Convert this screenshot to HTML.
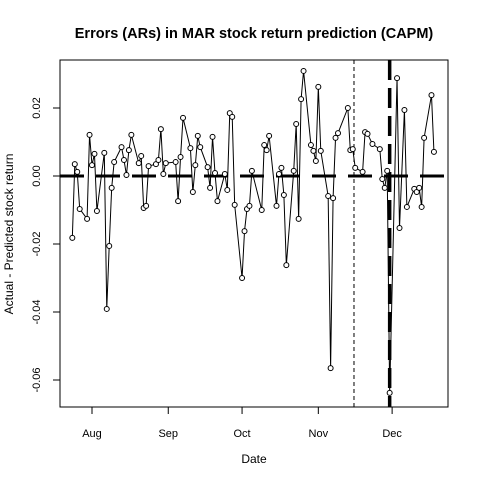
<!DOCTYPE html>
<html><head><meta charset="utf-8"><style>
body{margin:0;background:#fff}
svg text{font-family:"Liberation Sans",Arial,sans-serif;fill:#000}
</style></head><body>
<svg id="chart" width="480" height="480" xmlns="http://www.w3.org/2000/svg">
<rect width="480" height="480" fill="#fff"/>
<text x="254" y="38" text-anchor="middle" font-size="14.5" font-weight="bold">Errors (ARs) in MAR stock return prediction (CAPM)</text>
<text x="254" y="463" text-anchor="middle" font-size="12">Date</text>
<text transform="translate(13,234) rotate(-90)" text-anchor="middle" font-size="12">Actual - Predicted stock return</text>
<g id="axes"></g>
<g id="marks"></g>
<rect x="60" y="60" width="388" height="347" fill="none" stroke="#000" stroke-width="1"/>
</svg>
<script>
const days=[-8,-7,-6,-5,-2,-1,0,1,2,5,6,7,8,9,12,13,14,15,16,19,20,21,22,23,26,27,28,29,30,34,35,36,37,40,41,42,43,44,47,48,49,50,51,54,55,56,57,58,61,62,63,64,65,69,70,71,72,75,76,77,78,79,82,83,84,85,86,89,90,91,92,93,96,97,98,99,100,104,105,106,107,110,111,112,114,117,118,119,120,121,124,125,127,128,131,132,133,134,135,138,139];
const ars=[-.0182,.0035,.0012,-.0097,-.0126,.0121,.0032,.0065,-.0103,.0068,-.0391,-.0206,-.0035,.0041,.0085,.0047,.0003,.0076,.0121,.0038,.0059,-.0094,-.0088,.0029,.0035,.0047,.0138,.0006,.0038,.0041,-.0074,.0056,.0171,.0082,-.0047,.0032,.0118,.0085,.0026,-.0035,.0115,.0009,-.0074,.0006,-.0041,.0185,.0174,-.0085,-.0300,-.0162,-.0097,-.0088,.0015,-.0100,.0091,.0076,.0118,-.0088,.0006,.0024,-.0056,-.0262,.0015,.0153,-.0126,.0226,.0309,.0091,.0074,.0044,.0262,.0074,-.0059,-.0565,-.0065,.0112,.0126,.0200,.0076,.0079,.0024,.0012,.0129,.0124,.0094,.0079,-.0009,-.0035,.0015,-.0638,.0288,-.0153,.0194,-.0091,-.0038,-.0047,-.0035,-.0091,.0112,.0238,.0071];
const yTicks=[-0.06,-0.04,-0.02,0.00,0.02];
const yTickLabels=["-0.06","-0.04","-0.02","0.00","0.02"];
const monthDays=[0,31,61,92,122];
const monthLabels=["Aug","Sep","Oct","Nov","Dec"];
const eventLines=[106.5,121];
const NS="http://www.w3.org/2000/svg";
const X=d=>92+d*2.46, Y=v=>176-v*3400;
function mk(t,a,p){const e=document.createElementNS(NS,t);for(const k in a)e.setAttribute(k,a[k]);p.appendChild(e);return e;}
const ax=document.getElementById('axes'), mg=document.getElementById('marks');
yTicks.forEach((v,i)=>{
 const t=mk('line',{x1:53,x2:60,y1:Y(v),y2:Y(v),stroke:'#000'},ax);
 
 
 const l=mk('text',{transform:`translate(40,${Y(v)}) rotate(-90)`,'text-anchor':'middle','font-size':'11'},ax);
 l.textContent=yTickLabels[i];
 
 
});
monthDays.forEach((d,i)=>{
 const t=mk('line',{x1:X(d),x2:X(d),y1:407,y2:414,stroke:'#000'},ax);
 
 
 const l=mk('text',{x:X(d),y:437,'text-anchor':'middle','font-size':'11'},ax);
 l.textContent=monthLabels[i];
 
 
});
const zl=mk('line',{x1:60,x2:448,y1:Y(0),y2:Y(0),stroke:'#000','stroke-width':3,'stroke-dasharray':'24 12'},mg);


const v1=mk('line',{x1:X(eventLines[0]),x2:X(eventLines[0]),y1:60,y2:407,stroke:'#000','stroke-width':1,'stroke-dasharray':'4 3'},mg);


const v2=mk('line',{x1:X(eventLines[1]),x2:X(eventLines[1]),y1:60,y2:407,stroke:'#000','stroke-width':3.5,'stroke-dasharray':'20 8'},mg);


const pts=days.map((d,i)=>X(d)+','+Y(ars[i])).join(' ');
const pl=mk('polyline',{points:pts,fill:'none',stroke:'#000','stroke-width':1},mg);


days.forEach((d,i)=>{
 const c=mk('circle',{cx:X(d),cy:Y(ars[i]),r:2.5,fill:'#fff',stroke:'#000','stroke-width':1},mg);
 
 
});
</script>
</body></html>
